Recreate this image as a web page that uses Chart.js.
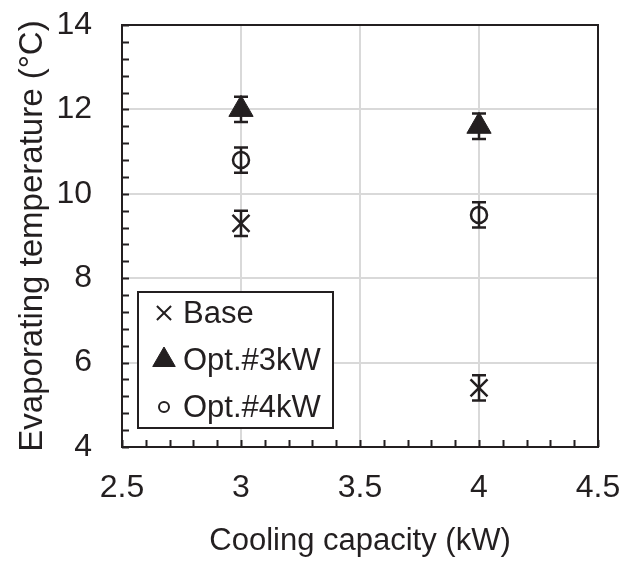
<!DOCTYPE html>
<html>
<head>
<meta charset="utf-8">
<script src="https://cdn.jsdelivr.net/npm/chart.js@4.4.0/dist/chart.umd.min.js"></script>
<style>
  html, body { margin: 0; padding: 0; background: #fff; }
</style>
</head>
<body>
<canvas id="chart" width="625" height="564"></canvas>
<script>
// cooling capacity (kW) vs evaporating temperature (°C)
const capacities = [3, 4];
const baseTemp = [9.3, 5.4];
const opt3Temp = [12.0, 11.6];
const opt4Temp = [10.8, 9.5];
const baseErr = [0.3, 0.3];
const opt3Err = [0.3, 0.3];
const opt4Err = [0.3, 0.3];
const xTicks = [2.5, 3, 3.5, 4, 4.5];
const yTicks = [4, 6, 8, 10, 12, 14];

const INK = '#231f20';
const FONT = "'Liberation Sans', Arial, sans-serif";

const toPoints = (ys) => capacities.map((x, i) => ({ x: x, y: ys[i] }));

const datasets = [
  {
    label: 'Base',
    data: toPoints(baseTemp),
    errors: baseErr,
    pointStyle: 'crossRot',
    pointRadius: 12,
    borderColor: INK,
    backgroundColor: INK,
    borderWidth: 2.5,
    legendRadius: 10,
  },
  {
    label: 'Opt.#3kW',
    data: toPoints(opt3Temp),
    errors: opt3Err,
    pointStyle: 'triangle',
    pointRadius: 14,
    borderColor: INK,
    backgroundColor: INK,
    borderWidth: 1,
    legendRadius: 13,
  },
  {
    label: 'Opt.#4kW',
    data: toPoints(opt4Temp),
    errors: opt4Err,
    pointStyle: 'circle',
    pointRadius: 8,
    borderColor: INK,
    backgroundColor: 'rgba(0,0,0,0)',
    borderWidth: 2.5,
    legendRadius: 5,
  },
];

// box frame, inward minor ticks, error bars and the in-plot legend
const decorations = {
  id: 'decorations',
  beforeDatasetsDraw(chart) {
    const { ctx, chartArea: a, scales: { x, y } } = chart;
    ctx.save();
    ctx.strokeStyle = INK;
    ctx.lineWidth = 2;
    ctx.beginPath();
    for (let i = 0; i <= 25; i++) {
      const py = Math.round(y.getPixelForValue(4 + i * 0.4)) + 0.5;
      ctx.moveTo(a.left, py);
      ctx.lineTo(a.left + 7, py);
    }
    for (let i = 0; i <= 20; i++) {
      const px = Math.round(x.getPixelForValue(2.5 + i * 0.1)) + 0.5;
      ctx.moveTo(px, a.bottom);
      ctx.lineTo(px, a.bottom - 7);
    }
    ctx.stroke();
    ctx.strokeRect(a.left, a.top, a.right - a.left, a.bottom - a.top);
    ctx.restore();
  },
  afterDatasetsDraw(chart) {
    const { ctx, scales: { x, y } } = chart;
    ctx.save();
    ctx.strokeStyle = INK;
    ctx.lineWidth = 2.5;
    chart.data.datasets.forEach((ds) => {
      ds.data.forEach((p, i) => {
        const px = x.getPixelForValue(p.x);
        const top = y.getPixelForValue(p.y + ds.errors[i]);
        const bot = y.getPixelForValue(p.y - ds.errors[i]);
        ctx.beginPath();
        ctx.moveTo(px, top);
        ctx.lineTo(px, bot);
        ctx.moveTo(px - 7, top);
        ctx.lineTo(px + 7, top);
        ctx.moveTo(px - 7, bot);
        ctx.lineTo(px + 7, bot);
        ctx.stroke();
      });
    });

    // legend box
    const box = { left: 138, top: 292, right: 333, bottom: 428 };
    ctx.fillStyle = '#fff';
    ctx.fillRect(box.left, box.top, box.right - box.left, box.bottom - box.top);
    ctx.lineWidth = 2;
    ctx.strokeRect(box.left, box.top, box.right - box.left, box.bottom - box.top);
    const rows = [313, 360, 407];
    ctx.font = '31px ' + FONT;
    ctx.textBaseline = 'middle';
    chart.data.datasets.forEach((ds, i) => {
      ctx.fillStyle = ds.backgroundColor;
      ctx.strokeStyle = ds.borderColor;
      ctx.lineWidth = ds.pointStyle === 'triangle' ? 1 : 2;
      Chart.helpers.drawPoint(ctx, {
        pointStyle: ds.pointStyle,
        radius: ds.legendRadius,
        rotation: 0,
        borderWidth: ctx.lineWidth,
      }, 164, rows[i]);
      ctx.fillStyle = INK;
      ctx.fillText(ds.label, 183, rows[i] + 1);
    });
    ctx.restore();
  },
};

new Chart(document.getElementById('chart'), {
  type: 'scatter',
  data: { datasets: datasets },
  options: {
    responsive: false,
    animation: false,
    layout: { padding: { top: 25, right: 27, left: 0, bottom: 0 } },
    plugins: {
      legend: { display: false },
      tooltip: { enabled: false },
    },
    scales: {
      x: {
        type: 'linear',
        min: 2.5,
        max: 4.5,
        afterBuildTicks: (s) => { s.ticks = xTicks.map((v) => ({ value: v })); },
        afterFit: (s) => {
          s.height = 117;
          s.paddingLeft = 0;
          s.paddingRight = 0;
        },
        border: { display: false },
        grid: { color: '#d9d9d9', lineWidth: 2, drawTicks: false },
        ticks: {
          padding: 22,
          color: INK,
          font: { family: FONT, size: 32 },
          callback: (v) => String(v),
        },
        title: {
          display: true,
          text: 'Cooling capacity (kW)',
          color: INK,
          font: { family: FONT, size: 31 },
          padding: { top: 0, bottom: 4 },
        },
      },
      y: {
        type: 'linear',
        min: 4,
        max: 14,
        afterBuildTicks: (s) => { s.ticks = yTicks.map((v) => ({ value: v })); },
        afterFit: (s) => {
          s.width = 122;
          s.paddingTop = 0;
          s.paddingBottom = 0;
        },
        border: { display: false },
        grid: { color: '#d9d9d9', lineWidth: 2, drawTicks: false },
        ticks: {
          padding: 30,
          color: INK,
          font: { family: FONT, size: 32 },
          callback: (v) => String(v),
        },
        title: {
          display: true,
          text: 'Evaporating temperature (°C)',
          color: INK,
          font: { family: FONT, size: 33 },
          padding: { top: 13, bottom: 0 },
        },
      },
    },
  },
  plugins: [decorations],
});
</script>
</body>
</html>
